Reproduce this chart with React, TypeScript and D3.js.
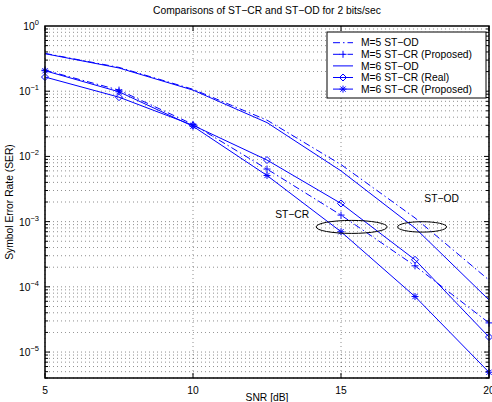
import React from "react";
import * as d3 from "d3";

const snr = [5, 7.5, 10, 12.5, 15, 17.5, 20];
const m5OD = [0.38, 0.232, 0.107, 0.036, 0.0075, 0.00114, 0.000127];
const m5CR = [0.21, 0.104, 0.031, 0.0064, 0.00126, 0.00021, 0.000028];
const m6OD = [0.376, 0.227, 0.104, 0.033, 0.006, 0.0008, 0.000063];
const m6CRReal = [0.165, 0.081, 0.03, 0.0088, 0.0019, 0.00026, 0.000017];
const m6CRProp = [0.206, 0.098, 0.029, 0.0051, 0.0007, 0.000071, 0.0000049];

const legendLabels = [
  "M=5 ST\u2212OD",
  "M=5 ST\u2212CR (Proposed)",
  "M=6 ST\u2212OD",
  "M=6 ST\u2212CR (Real)",
  "M=6 ST\u2212CR (Proposed)",
];
const xTicks = [5, 10, 15, 20];
const yTickExps = [0, -1, -2, -3, -4, -5];

const ellipses = [
  { label: "ST\u2212CR", cx: 15.36, cy: 0.00083, labelX: 13.35, labelY: 0.00125 },
  { label: "ST\u2212OD", cx: 17.74, cy: 0.00083, labelX: 18.4, labelY: 0.0022 },
];

const W = 492;
const H = 402;
const L = 45, R = 489, T = 26, B = 378;
const font = "'Liberation Sans', Arial, Helvetica, sans-serif";
const blue = "#0000ff";
const dashDot = "7,3,1.5,3";
const fs = 10.3;

const series = [
  { values: m5OD, dash: dashDot, marker: "none" },
  { values: m5CR, dash: dashDot, marker: "plus" },
  { values: m6OD, dash: "none", marker: "none" },
  { values: m6CRReal, dash: "none", marker: "diamond" },
  { values: m6CRProp, dash: "none", marker: "star" },
];

function Marker({ type, x, y }: { type: string; x: number; y: number }) {
  const r = 3.5;
  if (type === "plus") {
    return (
      <path d={`M${x - r},${y}H${x + r}M${x},${y - r}V${y + r}`} stroke={blue} strokeWidth={1} fill="none" />
    );
  }
  if (type === "diamond") {
    return (
      <path d={`M${x},${y - r}L${x + r},${y}L${x},${y + r}L${x - r},${y}Z`} stroke={blue} strokeWidth={1} fill="none" />
    );
  }
  if (type === "star") {
    const k = r * 0.75;
    return (
      <path
        d={`M${x - r},${y}H${x + r}M${x},${y - r}V${y + r}M${x - k},${y - k}L${x + k},${y + k}M${x - k},${y + k}L${x + k},${y - k}`}
        stroke={blue}
        strokeWidth={1}
        fill="none"
      />
    );
  }
  return null;
}

export default function App() {
  const x = d3.scaleLinear().domain([5, 20]).range([L, R]);
  const y = d3.scaleLog().domain([4e-6, 1]).range([B, T]);

  const line = d3
    .line<number>()
    .x((_, i) => x(snr[i]))
    .y((v) => y(v));

  const minor: number[] = [];
  for (let e = -6; e < 0; e++) {
    for (let k = 1; k <= 9; k++) {
      const v = k * Math.pow(10, e);
      if (v >= 4e-6 && v <= 1) minor.push(v);
    }
  }

  const gridStyle = { stroke: "#000", strokeWidth: 0.8, strokeDasharray: "1,3", opacity: 0.55 };

  return (
    <svg
      width={W}
      height={H}
      style={{ position: "absolute", left: 0, top: 0, background: "#fff" }}
      fontFamily={font}
    >
      <rect x={0} y={0} width={W} height={H} fill="#fff" />
      {/* grid */}
      <g>
        {minor.map((v, i) => (
          <line key={"h" + i} x1={L} x2={R} y1={y(v)} y2={y(v)} {...gridStyle} />
        ))}
        {xTicks.map((t) => (
          <line key={"v" + t} x1={x(t)} x2={x(t)} y1={T} y2={B} {...gridStyle} />
        ))}
      </g>
      {/* ticks */}
      <g stroke="#000" strokeWidth={1}>
        {minor.map((v, i) => {
          const major = Math.abs(Math.log10(v) - Math.round(Math.log10(v))) < 1e-9;
          const len = major ? 5 : 3;
          return (
            <g key={"t" + i}>
              <line x1={L} x2={L + len} y1={y(v)} y2={y(v)} />
              <line x1={R} x2={R - len} y1={y(v)} y2={y(v)} />
            </g>
          );
        })}
        {xTicks.map((t) => (
          <g key={"xt" + t}>
            <line x1={x(t)} x2={x(t)} y1={B} y2={B - 5} />
            <line x1={x(t)} x2={x(t)} y1={T} y2={T + 5} />
          </g>
        ))}
      </g>
      {/* series */}
      <g>
        {series.map((s, i) => (
          <g key={"s" + i}>
            <path
              d={line(s.values) || ""}
              fill="none"
              stroke={blue}
              strokeWidth={1}
              strokeDasharray={s.dash}
            />
            {s.values.map((v, j) => (
              <Marker key={j} type={s.marker} x={x(snr[j])} y={y(v)} />
            ))}
          </g>
        ))}
      </g>
      {/* ellipses */}
      {ellipses.map((e, i) => (
        <g key={"e" + i}>
          <ellipse
            cx={x(e.cx)}
            cy={y(e.cy)}
            rx={i === 0 ? 35.5 : 24.5}
            ry={i === 0 ? 6.5 : 5.2}
            fill="none"
            stroke="#000"
            strokeWidth={1}
          />
          <text x={x(e.labelX)} y={y(e.labelY)} fontSize={fs} textAnchor="middle" dominantBaseline="middle">
            {e.label}
          </text>
        </g>
      ))}
      {/* axes box */}
      <rect x={L} y={T} width={R - L} height={B - T} fill="none" stroke="#000" strokeWidth={1.5} />
      {/* y tick labels */}
      {yTickExps.map((e) => (
        <text key={"yl" + e} x={L - 6} y={y(Math.pow(10, e)) + 4} fontSize={fs} textAnchor="end">
          10
          <tspan dy={-5} fontSize={7.5}>
            {e === 0 ? "0" : "\u2212" + Math.abs(e)}
          </tspan>
        </text>
      ))}
      {/* x tick labels */}
      {xTicks.map((t) => (
        <text key={"xl" + t} x={x(t)} y={B + 16} fontSize={fs} textAnchor="middle">
          {t}
        </text>
      ))}
      <text x={(L + R) / 2} y={H - 1} fontSize={fs} textAnchor="middle">
        SNR [dB]
      </text>
      <text
        transform={`translate(13,${(T + B) / 2}) rotate(-90)`}
        fontSize={fs}
        textAnchor="middle"
      >
        Symbol Error Rate (SER)
      </text>
      <text x={(L + R) / 2} y={14} fontSize={fs} textAnchor="middle">
        Comparisons of ST{"\u2212"}CR and ST{"\u2212"}OD for 2 bits/sec
      </text>
      {/* legend */}
      <g>
        <rect x={327} y={32} width={159} height={66} fill="#fff" stroke="#000" strokeWidth={1} />
        {legendLabels.map((lab, i) => {
          const ly = 42.7 + i * 11.6;
          return (
            <g key={"lg" + i}>
              <line x1={333} x2={353} y1={ly} y2={ly} stroke={blue} strokeWidth={1} strokeDasharray={series[i].dash} />
              <Marker type={series[i].marker} x={343} y={ly} />
              <text x={361} y={ly + 3.7} fontSize={fs}>
                {lab}
              </text>
            </g>
          );
        })}
      </g>
    </svg>
  );
}
